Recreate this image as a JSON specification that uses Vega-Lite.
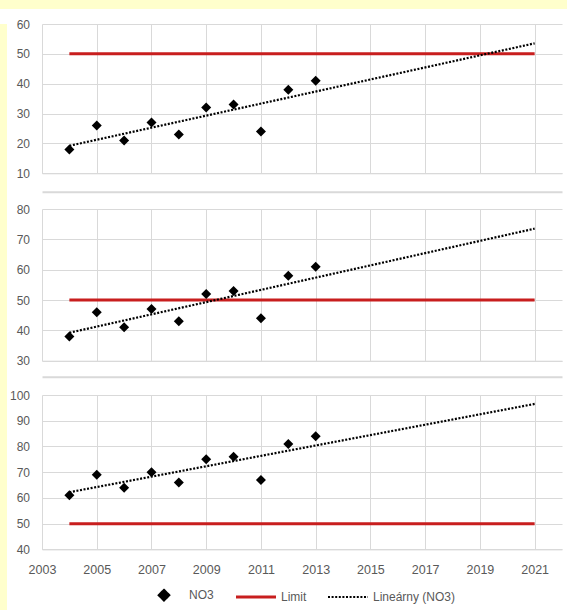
{
  "$schema": "https://vega.github.io/schema/vega-lite/v6.json",
  "background": "white",
  "padding": 0,
  "spacing": 0,
  "datasets": {
    "no3": [
      {"panel": 1, "year": 2004, "no3": 18}, {"panel": 1, "year": 2005, "no3": 26}, {"panel": 1, "year": 2006, "no3": 21},
      {"panel": 1, "year": 2007, "no3": 27}, {"panel": 1, "year": 2008, "no3": 23}, {"panel": 1, "year": 2009, "no3": 32},
      {"panel": 1, "year": 2010, "no3": 33}, {"panel": 1, "year": 2011, "no3": 24}, {"panel": 1, "year": 2012, "no3": 38},
      {"panel": 1, "year": 2013, "no3": 41},
      {"panel": 2, "year": 2004, "no3": 38}, {"panel": 2, "year": 2005, "no3": 46}, {"panel": 2, "year": 2006, "no3": 41},
      {"panel": 2, "year": 2007, "no3": 47}, {"panel": 2, "year": 2008, "no3": 43}, {"panel": 2, "year": 2009, "no3": 52},
      {"panel": 2, "year": 2010, "no3": 53}, {"panel": 2, "year": 2011, "no3": 44}, {"panel": 2, "year": 2012, "no3": 58},
      {"panel": 2, "year": 2013, "no3": 61},
      {"panel": 3, "year": 2004, "no3": 61}, {"panel": 3, "year": 2005, "no3": 69}, {"panel": 3, "year": 2006, "no3": 64},
      {"panel": 3, "year": 2007, "no3": 70}, {"panel": 3, "year": 2008, "no3": 66}, {"panel": 3, "year": 2009, "no3": 75},
      {"panel": 3, "year": 2010, "no3": 76}, {"panel": 3, "year": 2011, "no3": 67}, {"panel": 3, "year": 2012, "no3": 81},
      {"panel": 3, "year": 2013, "no3": 84}
    ],
    "limit": [{"year": 2004, "value": 50}, {"year": 2021, "value": 50}]
  },
  "config": {
    "view": {"stroke": null},
    "font": "Liberation Sans",
    "axis": {"gridColor": "#D9D9D9", "gridWidth": 1, "domainColor": "#D9D9D9", "labelColor": "#595959", "labelFont": "Liberation Sans", "labelFlush": false, "labelOverlap": false},
    "axisY": {"labelOverlap": false, "labelSeparation": 0}
  },
  "vconcat": [
    {"width": 567, "height": 9, "view": {"fill": "#FFFFCC", "stroke": null}, "data": {"values": []}, "mark": "point"},
    {
      "spacing": 0,
      "hconcat": [
        {"width": 7, "height": 601, "view": {"fill": "#FFFFCC", "stroke": null}, "data": {"values": []}, "mark": "point"},
        {
          "spacing": 0,
          "vconcat": [
            {
              "width": 520, "height": 149.3,
              "layer": [
                {
                  "data": {"name": "limit"},
                  "mark": {"type": "line", "color": "#C81E1E", "strokeWidth": 3},
                  "encoding": {
                    "x": {"field": "year", "type": "quantitative", "scale": {"domain": [2003, 2022], "nice": false, "zero": false},
                      "axis": {"orient": "top", "grid": false, "labels": false, "ticks": false, "domain": true, "domainOpacity": 0, "minExtent": 15, "maxExtent": 15, "title": null}},
                    "y": {"field": "value", "type": "quantitative", "scale": {"domain": [10, 60], "nice": false, "zero": false},
                      "axis": {"values": [10, 20, 30, 40, 50, 60], "grid": true, "ticks": false, "domain": false, "labelOverlap": false, "labelFlush": false, "labelPadding": 12.5, "labelFontSize": 12, "minExtent": 35, "maxExtent": 35, "title": null}}
                  }
                },
                {
                  "data": {"name": "no3"},
                  "transform": [{"filter": "datum.panel === 1"}, {"regression": "no3", "on": "year", "extent": [2004, 2021]}],
                  "mark": {"type": "line", "color": "black", "strokeWidth": 2.2, "strokeDash": [2, 1.6]},
                  "encoding": {
                    "x": {"field": "year", "type": "quantitative", "scale": {"domain": [2003, 2022], "nice": false, "zero": false}, "axis": null},
                    "y": {"field": "no3", "type": "quantitative", "scale": {"domain": [10, 60], "nice": false, "zero": false},
                      "axis": {"values": [10, 20, 30, 40, 50, 60], "grid": true, "ticks": false, "domain": false, "labelOverlap": false, "labelFlush": false, "labelPadding": 12.5, "labelFontSize": 12, "minExtent": 35, "maxExtent": 35, "title": null}}
                  }
                },
                {
                  "data": {"name": "no3"},
                  "transform": [{"filter": "datum.panel === 1"}],
                  "mark": {"type": "point", "shape": "diamond", "filled": true, "size": 100, "opacity": 1, "color": "black"},
                  "encoding": {
                    "x": {"field": "year", "type": "quantitative", "scale": {"domain": [2003, 2022], "nice": false, "zero": false},
                      "axis": {"orient": "bottom", "values": [2003, 2005, 2007, 2009, 2011, 2013, 2015, 2017, 2019, 2021], "grid": true, "labels": false, "ticks": false, "domain": true, "minExtent": 17.7, "maxExtent": 17.7, "title": null}},
                    "y": {"field": "no3", "type": "quantitative", "scale": {"domain": [10, 60], "nice": false, "zero": false},
                      "axis": {"values": [10, 20, 30, 40, 50, 60], "grid": true, "ticks": false, "domain": false, "labelOverlap": false, "labelFlush": false, "labelPadding": 12.5, "labelFontSize": 12, "minExtent": 35, "maxExtent": 35, "title": null}}
                  }
                }
              ],
              "resolve": {"axis": {"x": "independent", "y": "shared"}}
            },
            {
              "width": 520, "height": 151.7,
              "layer": [
                {
                  "data": {"name": "limit"},
                  "mark": {"type": "line", "color": "#C81E1E", "strokeWidth": 3},
                  "encoding": {
                    "x": {"field": "year", "type": "quantitative", "scale": {"domain": [2003, 2022], "nice": false, "zero": false},
                      "axis": {"orient": "top", "grid": false, "labels": false, "ticks": false, "domain": true, "domainColor": "#D9D9D9", "domainWidth": 2, "offset": 17.3, "minExtent": 0, "maxExtent": 0, "title": null}},
                    "y": {"field": "value", "type": "quantitative", "scale": {"domain": [30, 80], "nice": false, "zero": false},
                      "axis": {"values": [30, 40, 50, 60, 70, 80], "grid": true, "ticks": false, "domain": false, "labelOverlap": false, "labelFlush": false, "labelPadding": 12.5, "labelFontSize": 12, "minExtent": 35, "maxExtent": 35, "title": null}}
                  }
                },
                {
                  "data": {"name": "no3"},
                  "transform": [{"filter": "datum.panel === 2"}, {"regression": "no3", "on": "year", "extent": [2004, 2021]}],
                  "mark": {"type": "line", "color": "black", "strokeWidth": 2.2, "strokeDash": [2, 1.6]},
                  "encoding": {
                    "x": {"field": "year", "type": "quantitative", "scale": {"domain": [2003, 2022], "nice": false, "zero": false}, "axis": null},
                    "y": {"field": "no3", "type": "quantitative", "scale": {"domain": [30, 80], "nice": false, "zero": false},
                      "axis": {"values": [30, 40, 50, 60, 70, 80], "grid": true, "ticks": false, "domain": false, "labelOverlap": false, "labelFlush": false, "labelPadding": 12.5, "labelFontSize": 12, "minExtent": 35, "maxExtent": 35, "title": null}}
                  }
                },
                {
                  "data": {"name": "no3"},
                  "transform": [{"filter": "datum.panel === 2"}],
                  "mark": {"type": "point", "shape": "diamond", "filled": true, "size": 100, "opacity": 1, "color": "black"},
                  "encoding": {
                    "x": {"field": "year", "type": "quantitative", "scale": {"domain": [2003, 2022], "nice": false, "zero": false},
                      "axis": {"orient": "bottom", "values": [2003, 2005, 2007, 2009, 2011, 2013, 2015, 2017, 2019, 2021], "grid": true, "labels": false, "ticks": false, "domain": true, "minExtent": 15, "maxExtent": 15, "title": null}},
                    "y": {"field": "no3", "type": "quantitative", "scale": {"domain": [30, 80], "nice": false, "zero": false},
                      "axis": {"values": [30, 40, 50, 60, 70, 80], "grid": true, "ticks": false, "domain": false, "labelOverlap": false, "labelFlush": false, "labelPadding": 12.5, "labelFontSize": 12, "minExtent": 35, "maxExtent": 35, "title": null}}
                  }
                }
              ],
              "resolve": {"axis": {"x": "independent", "y": "shared"}}
            },
            {
              "width": 520, "height": 154.4,
              "layer": [
                {
                  "data": {"name": "limit"},
                  "mark": {"type": "line", "strokeWidth": 3},
                  "encoding": {
                    "x": {"field": "year", "type": "quantitative", "scale": {"domain": [2003, 2022], "nice": false, "zero": false},
                      "axis": {"orient": "top", "grid": false, "labels": false, "ticks": false, "domain": true, "domainColor": "#D9D9D9", "domainWidth": 2, "offset": 18.3, "minExtent": 0, "maxExtent": 0, "title": null}},
                    "y": {"field": "value", "type": "quantitative", "scale": {"domain": [40, 100], "nice": false, "zero": false},
                      "axis": {"values": [40, 50, 60, 70, 80, 90, 100], "grid": true, "ticks": false, "domain": false, "labelOverlap": false, "labelFlush": false, "labelPadding": 12.5, "labelFontSize": 12, "minExtent": 35, "maxExtent": 35, "title": null}},
                    "color": {
                      "datum": "Limit",
                      "scale": {"domain": ["NO3", "Limit", "Lineárny (NO3)"], "range": ["black", "#C81E1E", "black"]},
                      "legend": {
                        "orient": "none", "legendX": 158, "legendY": 589, "direction": "horizontal", "title": null,
                        "symbolType": "stroke", "symbolStrokeWidth": 2,
                        "labelFontSize": 12, "labelColor": "#595959", "labelFont": "Liberation Sans", "labelOffset": 19, "columnPadding": 16,
                        "encode": {
                          "symbols": {
                            "update": {
                              "shape": {"signal": "datum.value === 'NO3' ? 'diamond' : 'stroke'"},
                              "size": {"signal": "datum.value === 'NO3' ? 110 : 1600"},
                              "fill": {"signal": "datum.value === 'NO3' ? 'black' : 'transparent'"},
                              "stroke": {"signal": "datum.value === 'Limit' ? '#C81E1E' : (datum.value === 'NO3' ? 'transparent' : 'black')"},
                              "strokeWidth": {"signal": "datum.value === 'Limit' ? 3 : 2.2"},
                              "strokeDash": {"signal": "datum.value === 'Lineárny (NO3)' ? [2, 1.6] : [1, 0]"},
                              "opacity": {"value": 1}
                            }
                          }
                        }
                      }
                    }
                  }
                },
                {
                  "data": {"name": "no3"},
                  "transform": [{"filter": "datum.panel === 3"}, {"regression": "no3", "on": "year", "extent": [2004, 2021]}],
                  "mark": {"type": "line", "strokeWidth": 2.2, "strokeDash": [2, 1.6]},
                  "encoding": {
                    "x": {"field": "year", "type": "quantitative", "scale": {"domain": [2003, 2022], "nice": false, "zero": false}, "axis": null},
                    "y": {"field": "no3", "type": "quantitative", "scale": {"domain": [40, 100], "nice": false, "zero": false},
                      "axis": {"values": [40, 50, 60, 70, 80, 90, 100], "grid": true, "ticks": false, "domain": false, "labelOverlap": false, "labelFlush": false, "labelPadding": 12.5, "labelFontSize": 12, "minExtent": 35, "maxExtent": 35, "title": null}},
                    "color": {"datum": "Lineárny (NO3)"}
                  }
                },
                {
                  "data": {"name": "no3"},
                  "transform": [{"filter": "datum.panel === 3"}],
                  "mark": {"type": "point", "shape": "diamond", "filled": true, "size": 100, "opacity": 1},
                  "encoding": {
                    "x": {"field": "year", "type": "quantitative", "scale": {"domain": [2003, 2022], "nice": false, "zero": false},
                      "axis": {"orient": "bottom", "values": [2003, 2005, 2007, 2009, 2011, 2013, 2015, 2017, 2019, 2021], "format": "d", "grid": true, "labels": true, "ticks": false, "domain": true, "labelFontSize": 12.5, "labelPadding": 14, "title": null}},
                    "y": {"field": "no3", "type": "quantitative", "scale": {"domain": [40, 100], "nice": false, "zero": false},
                      "axis": {"values": [40, 50, 60, 70, 80, 90, 100], "grid": true, "ticks": false, "domain": false, "labelOverlap": false, "labelFlush": false, "labelPadding": 12.5, "labelFontSize": 12, "minExtent": 35, "maxExtent": 35, "title": null}},
                    "color": {"datum": "NO3"}
                  }
                }
              ],
              "resolve": {"axis": {"x": "independent", "y": "shared"}}
            }
          ]
        }
      ]
    }
  ]
}
